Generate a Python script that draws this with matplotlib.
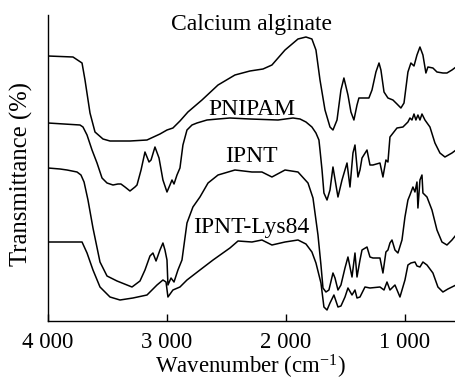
import matplotlib
matplotlib.use("Agg")
import matplotlib.pyplot as plt

plt.rcParams['font.family'] = ['Liberation Serif', 'DejaVu Serif']
plt.rcParams['mathtext.fontset'] = 'custom'
plt.rcParams['mathtext.rm'] = 'Liberation Serif'
plt.rcParams['mathtext.it'] = 'Liberation Serif:italic'

# Spectra (wavenumber in cm-1, transmittance in arbitrary offset units)
alg_wn = [4000, 3790, 3714, 3689, 3647, 3605, 3538, 3479, 3311, 3168, 3059, 3000, 2950, 2891,
          2824, 2706, 2571, 2429, 2303, 2193, 2118, 2008, 1899, 1832, 1782, 1748, 1714, 1672,
          1630, 1605, 1571, 1538, 1513, 1479, 1454, 1429, 1403, 1387, 1303, 1277, 1244, 1218,
          1202, 1176, 1143, 1101, 1067, 1034, 1008, 975, 950, 924, 899, 874, 849, 824, 807,
          765, 731, 681, 647, 605, 571]
alg_t = [265, 264, 258, 241, 208, 189, 182, 180, 180, 181, 187, 191, 193, 200,
         209, 221, 236, 246, 250, 252, 256, 271, 282, 284, 282, 271, 241, 211,
         194, 191, 201, 231, 243, 226, 209, 201, 216, 223, 223, 231, 249, 258,
         251, 229, 223, 221, 217, 213, 218, 249, 258, 255, 266, 274, 266, 248, 254,
         253, 249, 248, 248, 251, 254]

pnipam_wn = [4000, 3731, 3706, 3672, 3630, 3588, 3546, 3504, 3454, 3412, 3387, 3353, 3311, 3269,
             3252, 3218, 3185, 3151, 3134, 3101, 3067, 3034, 3000, 2975, 2958, 2941, 2916, 2891,
             2866, 2832, 2790, 2748, 2664, 2571, 2471, 2303, 2067, 1941, 1882, 1832, 1782, 1748,
             1723, 1714, 1697, 1681, 1655, 1630, 1605, 1580, 1563, 1529, 1487, 1462, 1437, 1420,
             1395, 1378, 1361, 1319, 1294, 1269, 1210, 1185, 1160, 1143, 1126, 1067, 1017, 975,
             958, 941, 924, 908, 891, 874, 857, 832, 790, 748, 706, 664, 605, 571]
pnipam_t = [198, 196, 194, 186, 171, 158, 143, 138, 136, 137, 137, 134, 130, 134,
            136, 151, 169, 159, 161, 174, 163, 141, 129, 136, 141, 137, 146, 153,
            176, 191, 196, 198, 201, 202, 203, 202, 201, 203, 202, 199, 194, 188,
            181, 171, 151, 128, 121, 131, 154, 136, 124, 141, 158, 134, 168, 176,
            144, 151, 163, 171, 156, 156, 158, 144, 161, 159, 184, 193, 194, 199,
            203, 201, 207, 201, 206, 201, 207, 201, 194, 178, 168, 164, 168, 171]

ipnt_wn = [4000, 3899, 3840, 3756, 3723, 3697, 3664, 3622, 3563, 3504, 3420, 3336, 3294, 3227,
           3185, 3143, 3118, 3092, 3059, 3034, 3017, 3000, 2992, 2966, 2941, 2908, 2874, 2832,
           2782, 2723, 2655, 2571, 2429, 2286, 2202, 2118, 2008, 1899, 1815, 1773, 1731, 1706,
           1689, 1664, 1639, 1605, 1588, 1563, 1538, 1504, 1479, 1445, 1420, 1403, 1378, 1361,
           1319, 1294, 1269, 1210, 1185, 1160, 1143, 1126, 1109, 1084, 1059, 1025, 1000, 975,
           958, 933, 916, 899, 891, 874, 857, 849, 815, 773, 731, 689, 647, 605, 571]
ipnt_t = [153, 152, 151, 149, 146, 139, 121, 93, 59, 45, 40, 36, 34, 40,
          51, 65, 68, 60, 71, 78, 71, 61, 36, 43, 39, 51, 61, 98,
          114, 124, 138, 146, 151, 149, 149, 144, 151, 149, 138, 123, 86, 56,
          33, 29, 31, 48, 43, 31, 36, 53, 64, 44, 68, 44, 61, 71,
          74, 64, 63, 63, 48, 69, 71, 78, 81, 71, 68, 81, 104, 121,
          126, 134, 129, 139, 113, 141, 146, 128, 124, 111, 91, 79, 76, 81, 86]

lys_wn = [4000, 3857, 3714, 3672, 3622, 3563, 3479, 3395, 3286, 3168, 3084, 3034, 3008, 2992,
          2950, 2891, 2832, 2723, 2613, 2471, 2403, 2286, 2202, 2118, 2008, 1899, 1832, 1782,
          1748, 1706, 1681, 1655, 1630, 1597, 1563, 1538, 1504, 1479, 1445, 1420, 1403, 1378,
          1336, 1294, 1210, 1176, 1151, 1126, 1084, 1042, 1000, 975, 950, 916, 899, 874,
          849, 815, 765, 723, 681, 639, 605, 571]
lys_t = [79, 79, 79, 68, 51, 34, 24, 21, 23, 26, 36, 41, 39, 24,
         31, 34, 41, 51, 61, 73, 80, 79, 81, 76, 79, 81, 77, 69,
         58, 38, 14, 11, 18, 26, 14, 15, 24, 33, 26, 31, 23, 24,
         34, 33, 34, 31, 39, 31, 36, 24, 41, 56, 58, 59, 55, 54,
         59, 56, 48, 34, 29, 32, 34, 36]

labels = ['Calcium alginate', 'PNIPAM', 'IPNT', 'IPNT-Lys84']
label_y = [291, 206, 159, 88]
label_x = 2290

xticks = [4000, 3000, 2000, 1000]
xtick_labels = ['4 000', '3 000', '2 000', '1 000']

fig = plt.figure(figsize=(4.56, 3.8), dpi=100)
ax = fig.add_axes([48 / 456, 1 - 321 / 380, 408 / 456, 306 / 380])

for wn, t in [(alg_wn, alg_t), (pnipam_wn, pnipam_t), (ipnt_wn, ipnt_t), (lys_wn, lys_t)]:
    ax.plot(wn, t, color='black', lw=1.1, solid_joinstyle='round')

for name, y in zip(labels, label_y):
    ax.text(label_x, y, name, ha='center', va='baseline', fontsize=17, clip_on=False)

ax.set_xlim(4000, 571)
ax.set_ylim(0, 306)
ax.set_xticks(xticks)
ax.set_xticklabels(xtick_labels)
ax.set_yticks([])
ax.tick_params(axis='x', direction='in', length=5, width=1, labelsize=16.5, pad=8)
for side in ['top', 'right']:
    ax.spines[side].set_visible(False)
for side in ['left', 'bottom']:
    ax.spines[side].set_linewidth(1.0)

# x label placed by hand so it sits just above the bottom edge like the original
fig.text(250 / 456, 6 / 380, 'Wavenumber (cm$^{-1}$)', fontsize=16.5,
         ha='center', va='baseline')
ax.set_ylabel('Transmittance (%)', fontsize=17.8)
ax.yaxis.set_label_coords(-0.037, 0.48)

fig.savefig('out.png', dpi=100)
